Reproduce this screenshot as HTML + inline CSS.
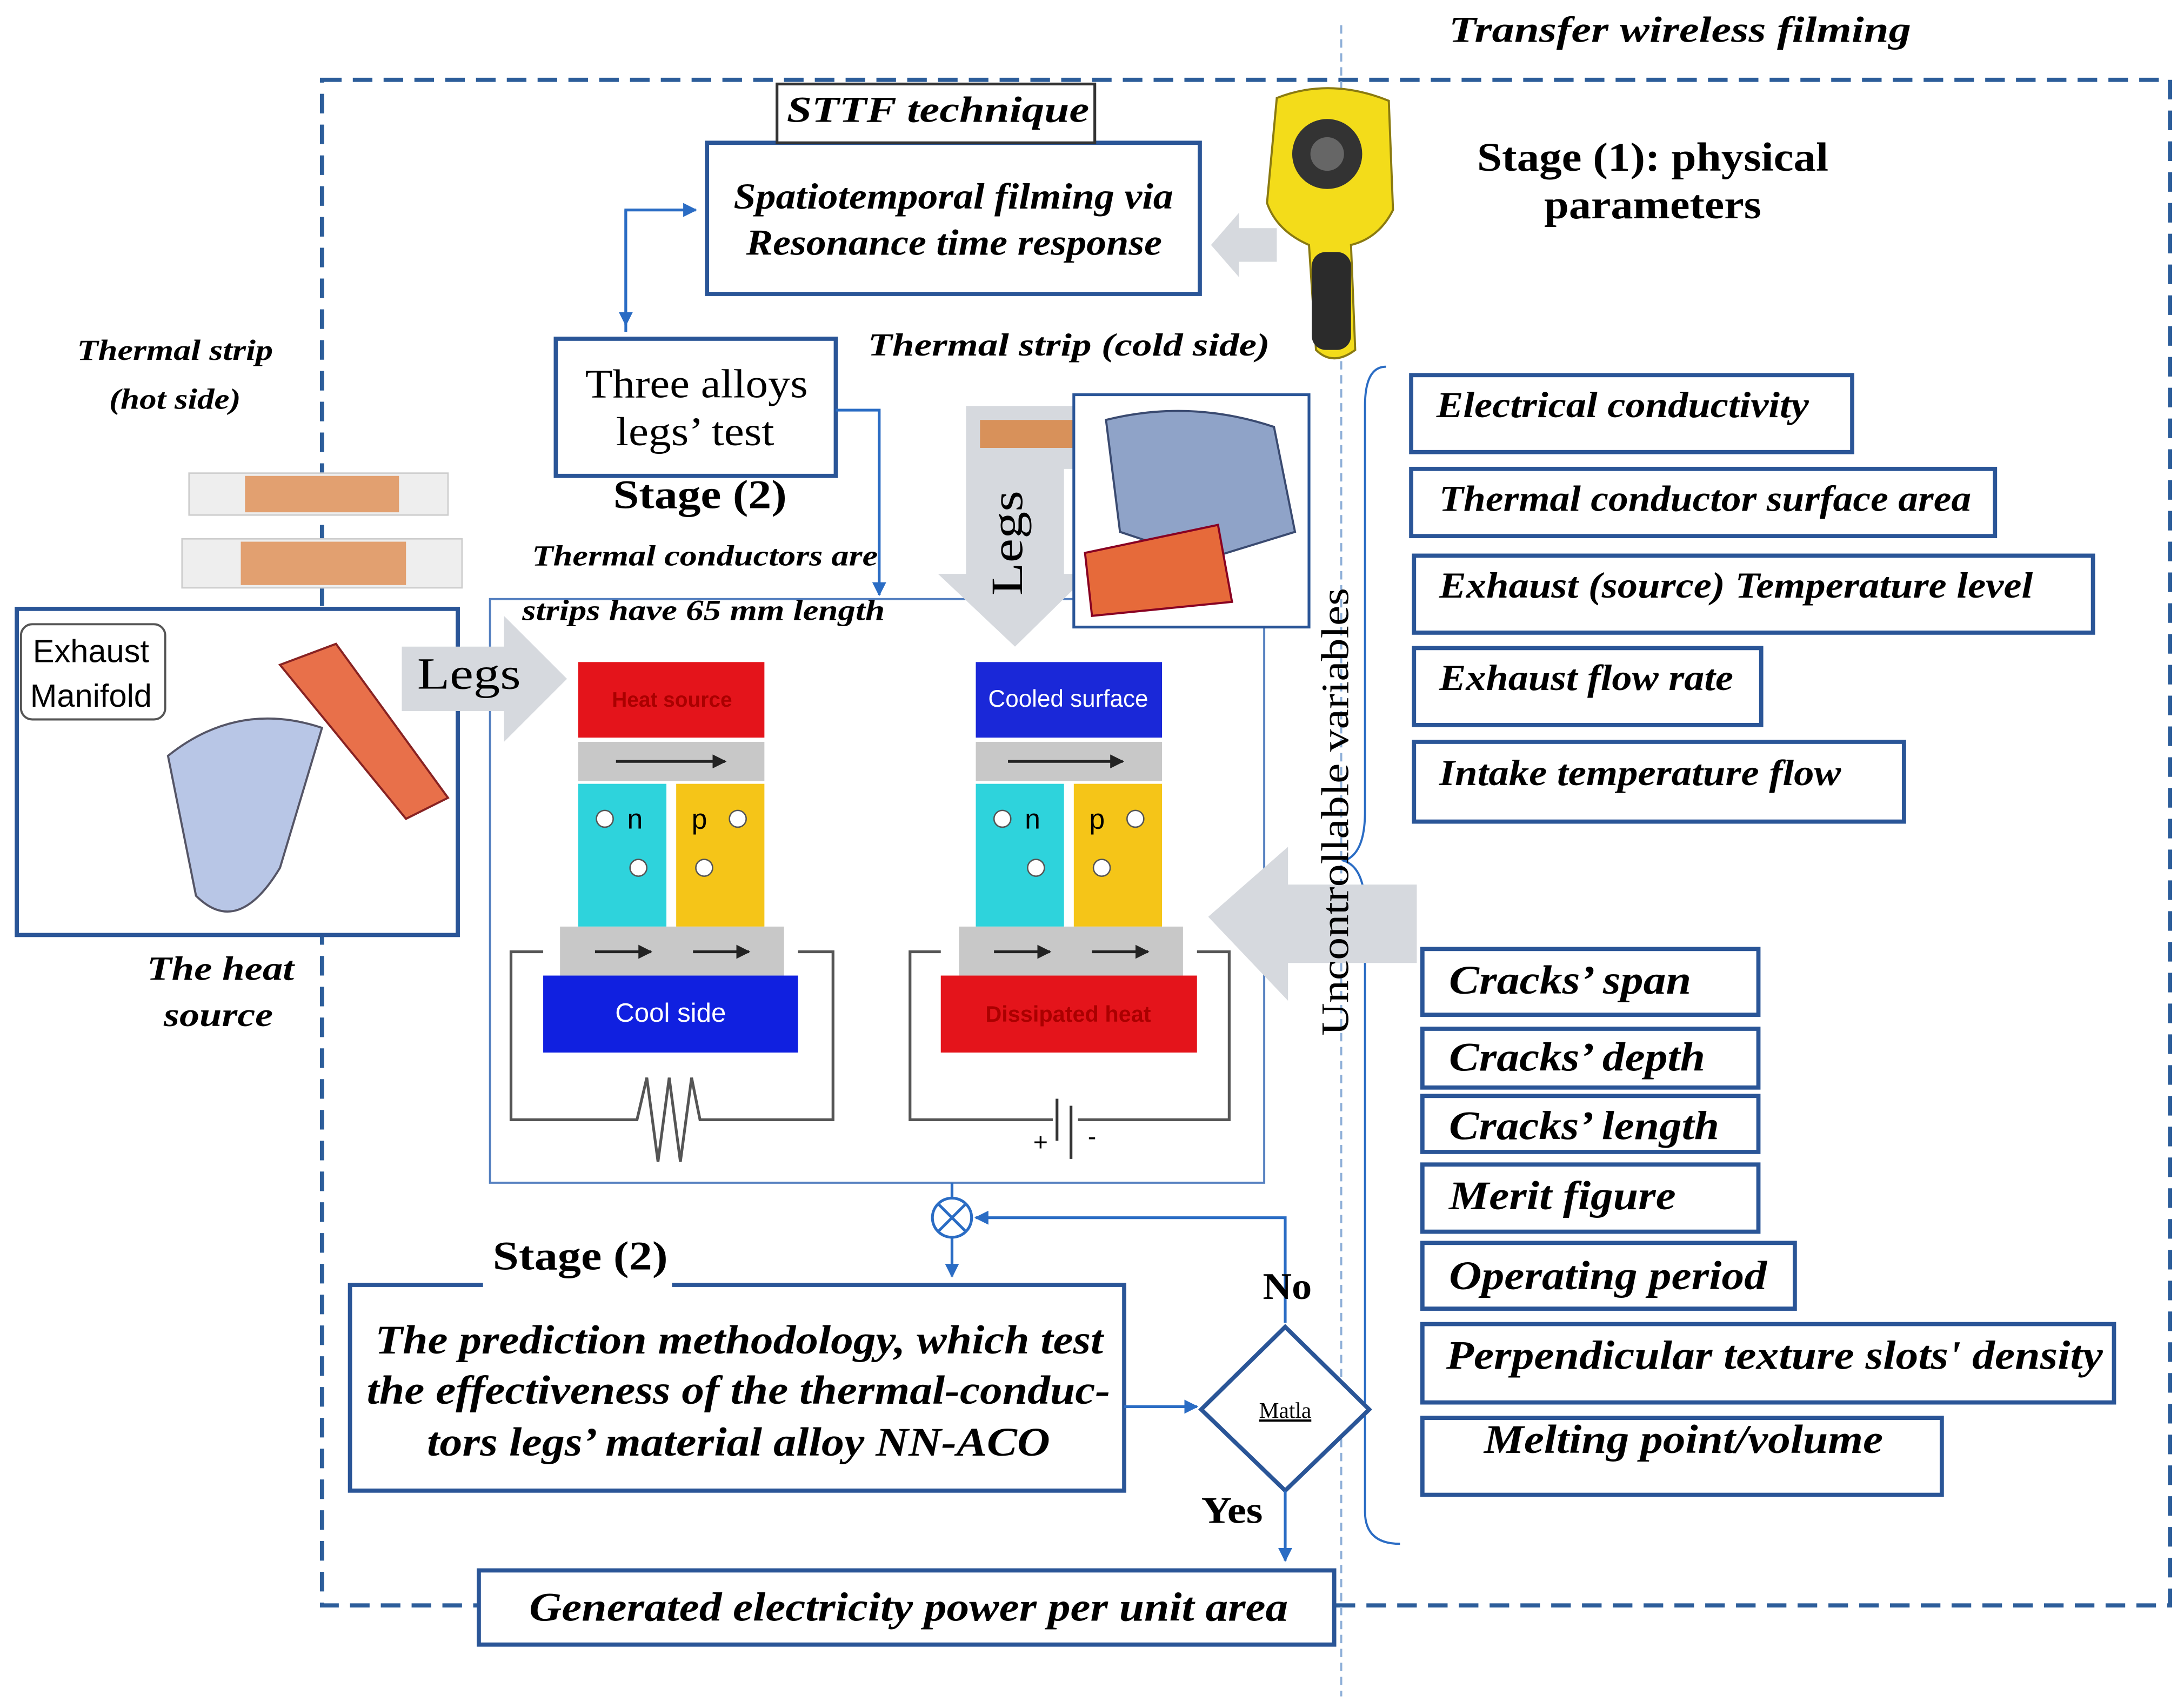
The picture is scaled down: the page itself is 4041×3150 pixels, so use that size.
<!DOCTYPE html>
<html><head><meta charset="utf-8"><style>
html,body{margin:0;padding:0;background:#fff}
svg{display:block}
text{font-family:"Liberation Serif",serif}
.bi{font-style:italic;font-weight:bold}
.sans{font-family:"Liberation Sans",sans-serif}
</style></head><body>
<svg width="4041" height="3150" viewBox="0 0 1560 1216" xmlns="http://www.w3.org/2000/svg">
<defs>
<marker id="ar" markerWidth="10" markerHeight="10" refX="9" refY="5" orient="auto" markerUnits="userSpaceOnUse"><path d="M0,0 L10,5 L0,10 z" fill="#2a6cc4"/></marker>
<marker id="ak" markerWidth="10" markerHeight="10" refX="9" refY="5" orient="auto" markerUnits="userSpaceOnUse"><path d="M0,0 L10,5 L0,10 z" fill="#222"/></marker>
</defs>
<rect width="1560" height="1216" fill="#fff"/>
<rect x="230" y="57" width="1320" height="1090" fill="none" stroke="#2c5d9a" stroke-width="3" stroke-dasharray="14,8"/>
<line x1="958" y1="18" x2="958" y2="1212" stroke="#8fb0d8" stroke-width="1.5" stroke-dasharray="6,4"/>
<text x="1035" y="30" font-size="26" class="bi" textLength="330" lengthAdjust="spacingAndGlyphs">Transfer wireless filming</text>

<!-- panel (behind) -->
<rect x="350" y="428" width="553" height="417" fill="#fff" stroke="#5580c0" stroke-width="1.5"/>

<!-- STTF -->
<rect x="505" y="102" width="352" height="108" fill="#fff" stroke="#2a5597" stroke-width="3"/>
<rect x="555" y="60" width="227" height="42" fill="#fff" stroke="#333" stroke-width="2"/>
<text x="562" y="87" font-size="26" class="bi" textLength="216" lengthAdjust="spacingAndGlyphs">STTF technique</text>
<text x="524" y="149" font-size="26" class="bi" textLength="314" lengthAdjust="spacingAndGlyphs">Spatiotemporal filming via</text>
<text x="533" y="182" font-size="26" class="bi" textLength="297" lengthAdjust="spacingAndGlyphs">Resonance time response</text>
<polygon points="865,175 885,152 885,163 912,163 912,187 885,187 885,198" fill="#d6d9de"/>

<!-- camera -->
<path d="M912,70 Q950,55 992,72 L995,150 Q985,170 965,175 L968,250 Q952,262 940,250 L935,175 Q912,165 905,145 Z" fill="#f3dc1a" stroke="#8a7a10" stroke-width="1.5"/>
<circle cx="948" cy="110" r="25" fill="#333"/><circle cx="948" cy="110" r="12" fill="#666"/>
<rect x="937" y="180" width="28" height="70" rx="10" fill="#2b2b2b"/>

<text x="1055" y="122" font-size="29" font-weight="bold" textLength="251" lengthAdjust="spacingAndGlyphs">Stage (1): physical</text>
<text x="1103" y="156" font-size="29" font-weight="bold" textLength="155" lengthAdjust="spacingAndGlyphs">parameters</text>

<g fill="#fff" stroke="#2a5597" stroke-width="3">
<rect x="1008" y="268" width="315" height="55"/>
<rect x="1008" y="335" width="417" height="48"/>
<rect x="1010" y="397" width="485" height="55"/>
<rect x="1010" y="463" width="248" height="55"/>
<rect x="1010" y="530" width="350" height="57"/>
<rect x="1016" y="678" width="240" height="47"/>
<rect x="1016" y="735" width="240" height="42"/>
<rect x="1016" y="783" width="240" height="40"/>
<rect x="1016" y="832" width="240" height="48"/>
<rect x="1016" y="888" width="266" height="47"/>
<rect x="1016" y="946" width="494" height="56"/>
<rect x="1016" y="1013" width="371" height="55"/>
</g>
<g font-size="26" class="bi">
<text x="1026" y="298" textLength="266" lengthAdjust="spacingAndGlyphs">Electrical conductivity</text>
<text x="1028" y="365" textLength="380" lengthAdjust="spacingAndGlyphs">Thermal conductor surface area</text>
<text x="1028" y="427" textLength="424" lengthAdjust="spacingAndGlyphs">Exhaust (source) Temperature level</text>
<text x="1028" y="493" textLength="210" lengthAdjust="spacingAndGlyphs">Exhaust flow rate</text>
<text x="1028" y="561" textLength="287" lengthAdjust="spacingAndGlyphs">Intake temperature flow</text>
</g>
<g font-size="29" class="bi">
<text x="1035" y="710" textLength="173" lengthAdjust="spacingAndGlyphs">Cracks’ span</text>
<text x="1035" y="765" textLength="183" lengthAdjust="spacingAndGlyphs">Cracks’ depth</text>
<text x="1035" y="814" textLength="193" lengthAdjust="spacingAndGlyphs">Cracks’ length</text>
<text x="1035" y="864" textLength="162" lengthAdjust="spacingAndGlyphs">Merit figure</text>
<text x="1035" y="921" textLength="227" lengthAdjust="spacingAndGlyphs">Operating period</text>
<text x="1033" y="978" textLength="469" lengthAdjust="spacingAndGlyphs">Perpendicular texture slots' density</text>
<text x="1060" y="1038" textLength="285" lengthAdjust="spacingAndGlyphs">Melting point/volume</text>
</g>
<path d="M990,262 Q975,262 975,290 L975,580 Q975,610 960,615 Q975,620 975,650 L975,1080 Q975,1103 1000,1103" fill="none" stroke="#2a6cc4" stroke-width="1.5"/>
<polygon points="863,655 920,605 920,632 1012,632 1012,688 920,688 920,715" fill="#d6d9de"/>
<text transform="translate(963,580) rotate(-90)" font-size="28" text-anchor="middle" textLength="320" lengthAdjust="spacingAndGlyphs">Uncontrollable variables</text>

<!-- Three alloys -->
<rect x="397" y="242" width="200" height="98" fill="#fff" stroke="#2a5597" stroke-width="3"/>
<text x="418" y="284" font-size="29" textLength="159" lengthAdjust="spacingAndGlyphs">Three alloys</text>
<text x="440" y="318" font-size="29" textLength="113" lengthAdjust="spacingAndGlyphs">legs’ test</text>
<text x="438" y="363" font-size="29" font-weight="bold" textLength="124" lengthAdjust="spacingAndGlyphs">Stage (2)</text>
<path d="M447,237 L447,150 L497,150" fill="none" stroke="#2a6cc4" stroke-width="2" marker-end="url(#ar)"/>
<path d="M447,150 L447,232" fill="none" stroke="#2a6cc4" stroke-width="2" marker-end="url(#ar)"/>
<path d="M597,293 L628,293 L628,425" fill="none" stroke="#2a6cc4" stroke-width="2" marker-end="url(#ar)"/>
<text x="380" y="404" font-size="21" class="bi" textLength="247" lengthAdjust="spacingAndGlyphs">Thermal conductors are</text>
<text x="373" y="443" font-size="21" class="bi" textLength="259" lengthAdjust="spacingAndGlyphs">strips have 65 mm length</text>
<text x="620" y="254" font-size="23" class="bi" textLength="287" lengthAdjust="spacingAndGlyphs">Thermal strip (cold side)</text>

<!-- cold strip + legs arrow -->
<polygon points="690,290 790,290 790,335 760,335 760,410 778,410 725,462 670,410 690,410" fill="#d6d9de"/>
<rect x="700" y="300" width="80" height="20" fill="#d8915a"/>
<text transform="translate(730,388) rotate(-90)" font-size="32" text-anchor="middle" textLength="75" lengthAdjust="spacingAndGlyphs">Legs</text>
<rect x="767" y="282" width="168" height="166" fill="#fff" stroke="#2a5597" stroke-width="2"/>
<path d="M790,300 Q850,285 910,305 L925,380 L860,400 L800,380 Z" fill="#8fa3c8" stroke="#3a4a70" stroke-width="1.5"/>
<path d="M775,395 L870,375 L880,430 L780,440 Z" fill="#e66a3a" stroke="#802" stroke-width="1.5"/>

<!-- hot strips and manifold -->
<text x="55" y="257" font-size="21" class="bi" textLength="140" lengthAdjust="spacingAndGlyphs">Thermal strip</text>
<text x="78" y="292" font-size="21" class="bi" textLength="94" lengthAdjust="spacingAndGlyphs">(hot side)</text>
<rect x="135" y="338" width="185" height="30" fill="#eee" stroke="#ccc"/>
<rect x="175" y="340" width="110" height="26" fill="#e2a070"/>
<rect x="130" y="385" width="200" height="35" fill="#eee" stroke="#ccc"/>
<rect x="172" y="387" width="118" height="31" fill="#e2a070"/>
<rect x="12" y="435" width="315" height="233" fill="#fff" stroke="#2a5597" stroke-width="3"/>
<rect x="15" y="446" width="103" height="68" rx="8" fill="#fff" stroke="#555" stroke-width="1.5"/>
<text x="65" y="473" font-size="23" text-anchor="middle" class="sans">Exhaust</text>
<text x="65" y="505" font-size="23" text-anchor="middle" class="sans">Manifold</text>
<path d="M120,540 Q170,500 230,520 L200,620 Q170,670 140,640 Z" fill="#b8c6e6" stroke="#556" stroke-width="1.5"/>
<path d="M200,475 L240,460 L320,570 L290,585 Z" fill="#e8704a" stroke="#822" stroke-width="1.5"/>
<text x="105" y="700" font-size="24" class="bi" textLength="105" lengthAdjust="spacingAndGlyphs">The heat</text>
<text x="117" y="733" font-size="24" class="bi" textLength="78" lengthAdjust="spacingAndGlyphs">source</text>

<polygon points="287,462 360,462 360,440 405,485 360,530 360,508 287,508" fill="#d6d9de"/>
<text x="298" y="492" font-size="32" textLength="74" lengthAdjust="spacingAndGlyphs">Legs</text>

<!-- left module -->
<rect x="413" y="473" width="133" height="54" fill="#e4141b"/>
<text x="480" y="505" font-size="15" fill="#a00" text-anchor="middle" class="sans" font-weight="bold">Heat source</text>
<rect x="413" y="530" width="133" height="28" fill="#c8c8c8"/>
<line x1="440" y1="544" x2="518" y2="544" stroke="#222" stroke-width="2" marker-end="url(#ak)"/>
<rect x="413" y="560" width="63" height="102" fill="#2ed3dc"/>
<rect x="483" y="560" width="63" height="102" fill="#f5c518"/>
<text x="448" y="592" font-size="20" class="sans">n</text><text x="494" y="592" font-size="20" class="sans">p</text>
<circle cx="432" cy="585" r="6" fill="#fff" stroke="#555"/><circle cx="456" cy="620" r="6" fill="#fff" stroke="#555"/>
<circle cx="527" cy="585" r="6" fill="#fff" stroke="#555"/><circle cx="503" cy="620" r="6" fill="#fff" stroke="#555"/>
<rect x="400" y="662" width="160" height="35" fill="#c8c8c8"/>
<line x1="425" y1="680" x2="465" y2="680" stroke="#222" stroke-width="2" marker-end="url(#ak)"/>
<line x1="495" y1="680" x2="535" y2="680" stroke="#222" stroke-width="2" marker-end="url(#ak)"/>
<rect x="388" y="697" width="182" height="55" fill="#1020e0"/>
<text x="479" y="730" font-size="19" fill="#fff" text-anchor="middle" class="sans">Cool side</text>
<path d="M388,680 L365,680 L365,800 L455,800 L462,770 L470,830 L478,770 L486,830 L494,770 L500,800 L595,800 L595,680 L570,680" fill="none" stroke="#555" stroke-width="2"/>
<!-- right module -->
<rect x="697" y="473" width="133" height="54" fill="#1a28d8"/>
<text x="763" y="505" font-size="17" fill="#fff" text-anchor="middle" class="sans">Cooled surface</text>
<rect x="697" y="530" width="133" height="28" fill="#c8c8c8"/>
<line x1="720" y1="544" x2="802" y2="544" stroke="#222" stroke-width="2" marker-end="url(#ak)"/>
<rect x="697" y="560" width="63" height="102" fill="#2ed3dc"/>
<rect x="767" y="560" width="63" height="102" fill="#f5c518"/>
<text x="732" y="592" font-size="20" class="sans">n</text><text x="778" y="592" font-size="20" class="sans">p</text>
<circle cx="716" cy="585" r="6" fill="#fff" stroke="#555"/><circle cx="740" cy="620" r="6" fill="#fff" stroke="#555"/>
<circle cx="811" cy="585" r="6" fill="#fff" stroke="#555"/><circle cx="787" cy="620" r="6" fill="#fff" stroke="#555"/>
<rect x="685" y="662" width="160" height="35" fill="#c8c8c8"/>
<line x1="710" y1="680" x2="750" y2="680" stroke="#222" stroke-width="2" marker-end="url(#ak)"/>
<line x1="780" y1="680" x2="820" y2="680" stroke="#222" stroke-width="2" marker-end="url(#ak)"/>
<rect x="672" y="697" width="183" height="55" fill="#e4141b"/>
<text x="763" y="730" font-size="16" fill="#a00" text-anchor="middle" class="sans" font-weight="bold">Dissipated heat</text>
<path d="M672,680 L650,680 L650,800 L752,800 M770,800 L878,800 L878,680 L855,680" fill="none" stroke="#555" stroke-width="2"/>
<line x1="755" y1="785" x2="755" y2="815" stroke="#333" stroke-width="2"/><line x1="765" y1="790" x2="765" y2="828" stroke="#333" stroke-width="2"/>
<text x="738" y="822" font-size="18" class="sans">+</text><text x="777" y="818" font-size="18" class="sans">-</text>

<!-- bottom flow -->
<line x1="680" y1="845" x2="680" y2="856" stroke="#2a6cc4" stroke-width="2"/>
<circle cx="680" cy="870" r="14" fill="#fff" stroke="#2a6cc4" stroke-width="2"/>
<path d="M670,860 L690,880 M690,860 L670,880" stroke="#2a6cc4" stroke-width="2"/>
<line x1="680" y1="884" x2="680" y2="912" stroke="#2a6cc4" stroke-width="2" marker-end="url(#ar)"/>
<path d="M918,945 L918,870 L697,870" fill="none" stroke="#2a6cc4" stroke-width="2" marker-end="url(#ar)"/>
<rect x="250" y="918" width="553" height="147" fill="#fff" stroke="#2a5597" stroke-width="3"/>
<rect x="345" y="880" width="135" height="45" fill="#fff"/>
<text x="352" y="907" font-size="29" font-weight="bold" textLength="125" lengthAdjust="spacingAndGlyphs">Stage (2)</text>
<text x="268" y="967" font-size="29" class="bi" textLength="520" lengthAdjust="spacingAndGlyphs">The prediction methodology, which test</text>
<text x="262" y="1003" font-size="29" class="bi" textLength="531" lengthAdjust="spacingAndGlyphs">the effectiveness of the thermal-conduc-</text>
<text x="305" y="1040" font-size="29" class="bi" textLength="445" lengthAdjust="spacingAndGlyphs">tors legs’ material alloy NN-ACO</text>
<line x1="803" y1="1005" x2="855" y2="1005" stroke="#2a6cc4" stroke-width="2" marker-end="url(#ar)"/>
<polygon points="918,948 978,1007 918,1065 858,1007" fill="#fff" stroke="#2a5597" stroke-width="3"/>
<text x="918" y="1013" font-size="16" text-anchor="middle" text-decoration="underline">Matla</text>
<text x="902" y="928" font-size="27" font-weight="bold" textLength="35" lengthAdjust="spacingAndGlyphs">No</text>
<text x="858" y="1088" font-size="27" font-weight="bold" textLength="44" lengthAdjust="spacingAndGlyphs">Yes</text>
<line x1="918" y1="1065" x2="918" y2="1115" stroke="#2a6cc4" stroke-width="2" marker-end="url(#ar)"/>
<rect x="342" y="1122" width="611" height="53" fill="#fff" stroke="#2a5597" stroke-width="3"/>
<text x="378" y="1158" font-size="29" class="bi" textLength="542" lengthAdjust="spacingAndGlyphs">Generated electricity power per unit area</text>
</svg>
</body></html>
